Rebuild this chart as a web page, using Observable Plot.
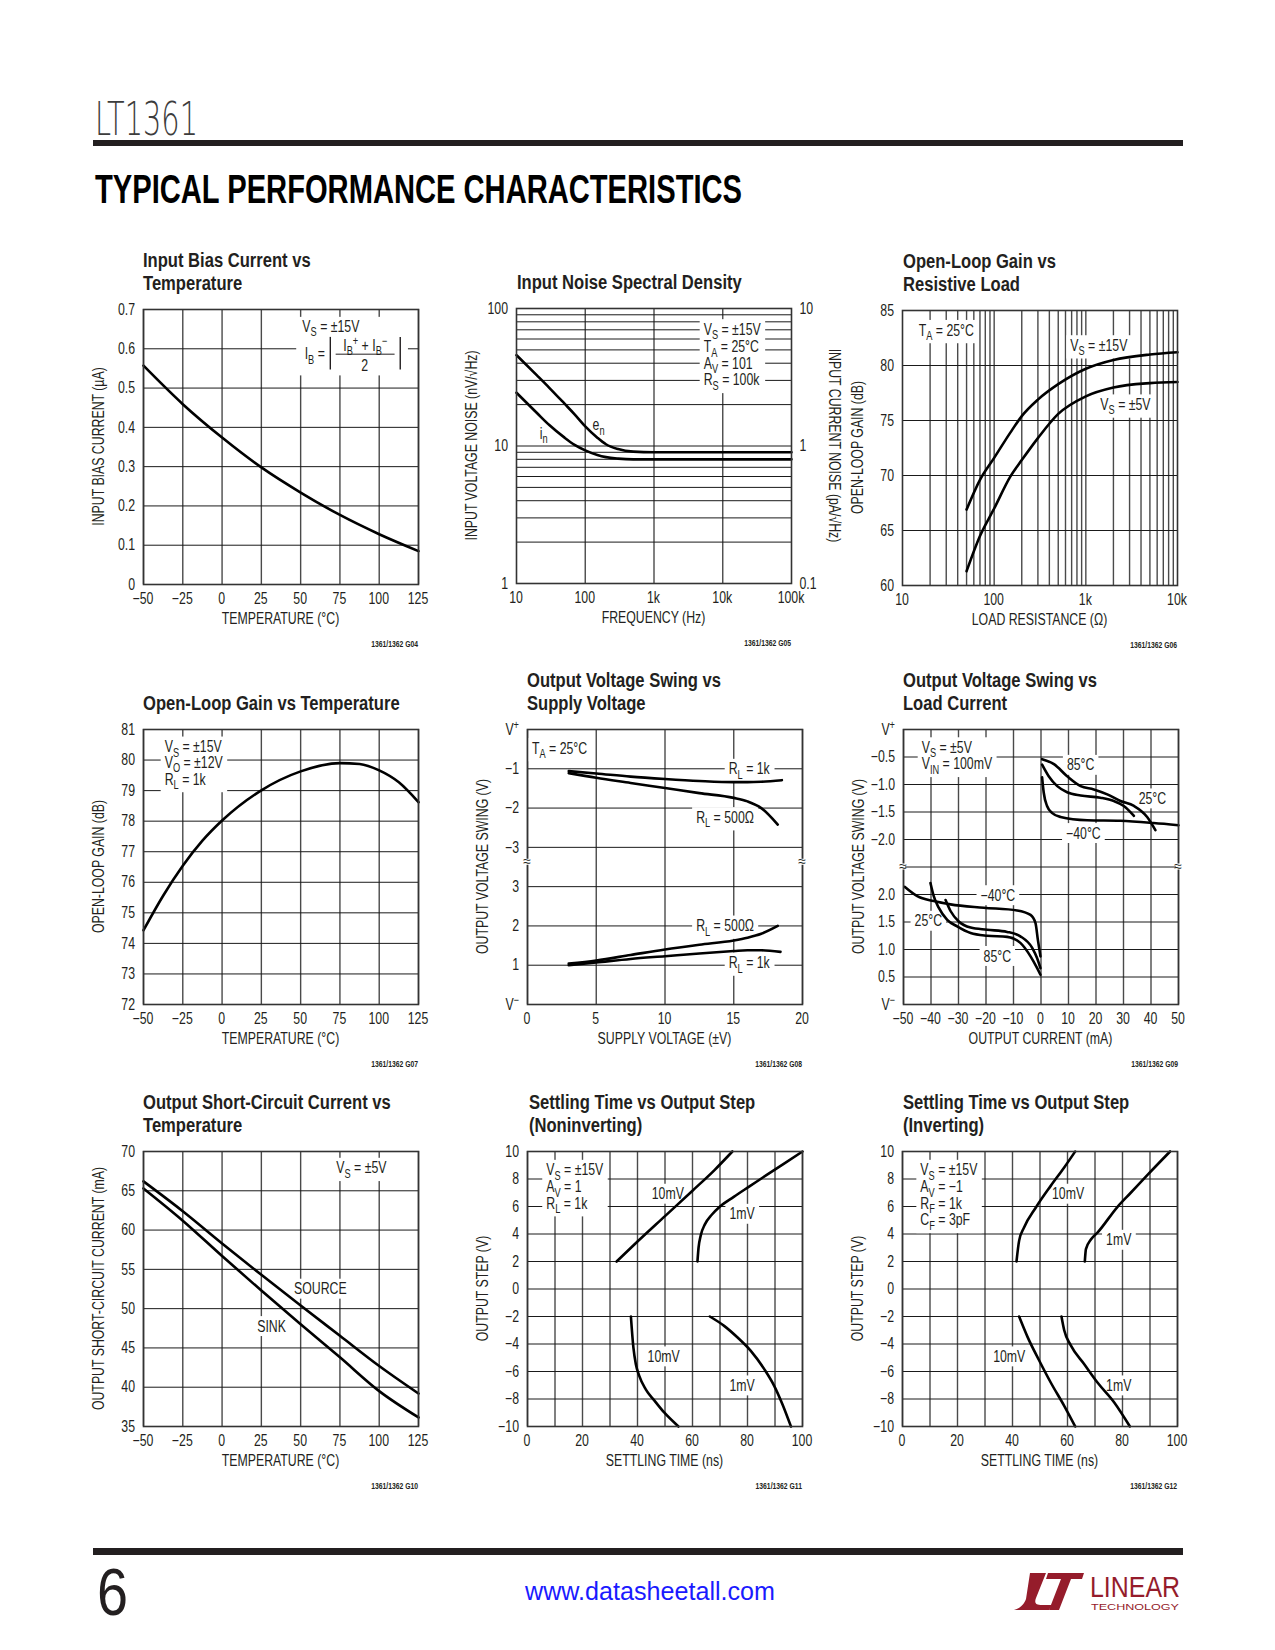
<!DOCTYPE html>
<html>
<head>
<meta charset="utf-8">
<script src="https://cdn.jsdelivr.net/npm/d3@7"></script>
<script src="https://cdn.jsdelivr.net/npm/@observablehq/plot@0.6"></script>
<style>
  html, body { margin: 0; padding: 0; background: #fff; }
  #page { position: relative; width: 1275px; height: 1650px; overflow: hidden; background: #fff; }
  #deco { position: absolute; left: 0; top: 0; z-index: 0; }
  .chart { position: absolute; z-index: 1; }
  .chart svg { display: block; overflow: visible; }
</style>
</head>
<body>
<div id="page">
<svg id="deco" width="1275" height="1650" xmlns="http://www.w3.org/2000/svg">
  <text x="95" y="135" font-family="'DejaVu Sans', 'Liberation Sans', sans-serif" font-weight="200" font-size="46" textLength="103" lengthAdjust="spacingAndGlyphs" fill="#3c3c3c">LT1361</text>
  <rect x="93" y="140" width="1090" height="6" fill="#231f20"/>
  <text x="95" y="203" font-family="'Liberation Sans', Arial, sans-serif" font-weight="bold" font-size="40" textLength="647" lengthAdjust="spacingAndGlyphs" fill="#000">TYPICAL PERFORMANCE CHARACTERISTICS</text>
  <g id="titles"></g>
  <rect x="93" y="1548" width="1090" height="7" fill="#231f20"/>
  <text x="97" y="1615" font-family="'Liberation Sans', Arial, sans-serif" font-size="66" textLength="31" lengthAdjust="spacingAndGlyphs" fill="#231f20">6</text>
  <text x="525" y="1600" font-family="'Liberation Sans', Arial, sans-serif" font-size="25" textLength="250" lengthAdjust="spacingAndGlyphs" fill="#1a1aff">www.datasheetall.com</text>
  <g transform="translate(1012,1571)" fill="#951c2b">
    <path d="M18 2 L34 2 L24 27 C22 32 24 34 30 34 L40 34 L37 39 L2 39 C9 37 12 33 14 28 Z"/>
    <path d="M36 2 L72 2 L70 8 L59 8 L47 39 L37 39 L49 8 L34 8 Z"/>
    <text x="78" y="26" font-family="'Liberation Sans', Arial, sans-serif" font-size="30" textLength="90" lengthAdjust="spacingAndGlyphs">LINEAR</text>
    <text x="79" y="38.5" font-family="'Liberation Sans', Arial, sans-serif" font-size="9" textLength="88" lengthAdjust="spacingAndGlyphs">TECHNOLOGY</text>
  </g>
</svg>
</div>
<script>
// ================= DATA =================
// G04 Input bias current vs temperature
const g04Temp = [-50, -25, 0, 25, 50, 75, 100, 125];
const g04Bias = [0.557, 0.459, 0.374, 0.298, 0.234, 0.177, 0.128, 0.085];

// G05 Input noise spectral density
const g05Freq = [10, 20, 30, 50, 70, 100, 150, 200, 300, 500, 1000, 10000, 100000];
const g05En = [45.8, 32.5, 26.5, 20.3, 17.0, 13.9, 11.5, 10.3, 9.5, 9.1, 9.0, 9.0, 9.0];      // nV/√Hz
const g05In = [2.44, 1.73, 1.42, 1.15, 1.02, 0.93, 0.86, 0.83, 0.81, 0.80, 0.80, 0.80, 0.80]; // pA/√Hz

// G06 Open-loop gain vs resistive load
const g06Load = [50, 70, 100, 150, 200, 300, 500, 1000, 2000, 5000, 10000];
const g06Gain15 = [66.9, 69.6, 71.6, 73.9, 75.4, 76.9, 78.3, 79.7, 80.5, 81.0, 81.2];
const g06Gain5 = [61.3, 64.5, 67.0, 69.9, 71.4, 73.4, 75.6, 77.2, 78.0, 78.4, 78.5];

// G07 Open-loop gain vs temperature
const g07Temp = [-50, -37.5, -25, -12.5, 0, 25, 50, 75, 87.5, 100, 112.5, 125];
const g07Gain = [74.43, 75.56, 76.54, 77.36, 78.02, 79.01, 79.63, 79.9, 79.87, 79.66, 79.27, 78.62];

// G08 Output voltage swing vs supply voltage (V relative to V+ / V−)
const g08Sup1kHi = [3, 5, 7.5, 10, 12.5, 15, 16, 17, 18.5];
const g08Swing1kHi = [-1.06, -1.12, -1.2, -1.26, -1.31, -1.34, -1.34, -1.33, -1.29];
const g08Sup500Hi = [3, 5, 7.5, 10, 12.5, 15, 16, 17, 18.2];
const g08Swing500Hi = [-1.11, -1.23, -1.36, -1.49, -1.62, -1.74, -1.83, -2.0, -2.42];
const g08Sup500Lo = [3, 5, 7.5, 10, 12.5, 15, 16, 17, 18.2];
const g08Swing500Lo = [1.04, 1.12, 1.26, 1.40, 1.52, 1.63, 1.70, 1.80, 2.0];
const g08Sup1kLo = [3, 5, 7.5, 10, 12.5, 15, 16, 17, 18.4];
const g08Swing1kLo = [1.0, 1.07, 1.16, 1.23, 1.30, 1.36, 1.38, 1.38, 1.34];

// G09 Output voltage swing vs load current
const g09CurA = [0.4, 4.7, 9.5, 14.4, 19.2, 24.1, 28.9, 33.8, 38.6, 41.6];
const g09SwingA = [-0.54, -0.63, -0.85, -1.03, -1.09, -1.18, -1.30, -1.39, -1.59, -1.83];
const g09CurB = [0.4, 2.8, 5.9, 9.5, 14.4, 21.6, 26.5, 30.1, 33.8];
const g09SwingB = [-0.64, -0.85, -1.03, -1.14, -1.20, -1.24, -1.30, -1.39, -1.57];
const g09CurC = [0.4, 1.0, 2.2, 4.1, 7.1, 16.8, 28.9, 41, 50];
const g09SwingC = [-0.87, -1.15, -1.39, -1.52, -1.59, -1.65, -1.66, -1.70, -1.74];
const g09CurD = [-49.6, -45, -39, -32.9, -20.8, -8.7, -3.8, -2.0, -1.15, -0.2];
const g09SwingD = [2.14, 1.97, 1.88, 1.82, 1.76, 1.71, 1.63, 1.48, 1.18, 0.875];
const g09CurE = [-40.2, -39, -37.2, -34.1, -30.5, -25.6, -19.6, -12.3, -7.5, -3.8, -1.4, -0.2];
const g09SwingE = [2.21, 1.97, 1.76, 1.54, 1.42, 1.30, 1.25, 1.23, 1.12, 0.875, 0.66, 0.54];
const g09CurF = [-34.7, -32.9, -29.9, -25.6, -19.6, -12.3, -7.5, -3.2, -1.4, -0.2];
const g09SwingF = [1.90, 1.70, 1.51, 1.40, 1.36, 1.32, 1.24, 1.03, 0.84, 0.66];

// G10 Output short-circuit current vs temperature
const g10Temp = [-50, -25, 0, 25, 50, 75, 100, 125];
const g10Source = [66.2, 62.4, 58.3, 54.3, 50.4, 46.55, 42.7, 39.2];
const g10Sink = [65.3, 61.2, 56.7, 52.3, 48.0, 43.8, 39.5, 36.15];

// G11 Settling time vs output step (noninverting)
const g11T10mVPos = [32.4, 40, 50, 60, 68, 74.5];
const g11S10mVPos = [2, 3.45, 5.3, 7.15, 8.65, 10];
const g11T1mVPos = [61.8, 62.2, 63.0, 64.5, 67, 70, 75, 81, 87, 93.3, 100];
const g11S1mVPos = [2, 3, 3.9, 4.7, 5.4, 6.0, 6.7, 7.5, 8.3, 9.12, 10];
const g11T10mVNeg = [37.6, 38.5, 39.4, 40.6, 43.0, 46.1, 49.7, 54.9];
const g11S10mVNeg = [-2, -4.25, -5.47, -6.3, -7.3, -8.1, -8.98, -10];
const g11T1mVNeg = [66.3, 71.5, 76.4, 81.2, 86.1, 89.7, 92.7, 95.8];
const g11S1mVNeg = [-2, -2.68, -3.53, -4.5, -5.83, -7.04, -8.38, -10];

// G12 Settling time vs output step (inverting)
const g12T10mVPos = [41.45, 42.4, 44.2, 48.5, 53.9, 58.8, 62.8];
const g12S10mVPos = [2, 3.5, 4.47, 5.93, 7.5, 8.84, 10];
const g12T1mVPos = [66.3, 66.7, 68.5, 70.9, 78.2, 83.0, 89.1, 97.3];
const g12S1mVPos = [2, 2.9, 3.6, 4.1, 5.98, 7.0, 8.3, 10];
const g12T10mVNeg = [42.4, 45.5, 49.7, 53.9, 58.8, 62.8];
const g12S10mVNeg = [-2, -3.5, -5.2, -6.8, -8.5, -10];
const g12T1mVNeg = [57.8, 58.8, 61.2, 66.1, 70.9, 77, 82.7];
const g12S1mVNeg = [-2, -3.0, -4.1, -5.47, -6.8, -8.25, -10];

// Tick values and labels
const tempTicks = [-50, -25, 0, 25, 50, 75, 100, 125];
const g04YTicks = [0, 0.1, 0.2, 0.3, 0.4, 0.5, 0.6, 0.7];
const g05XTicks = [10, 100, 1000, 10000, 100000];
const g05XLabels = ["10", "100", "1k", "10k", "100k"];
const g05YTicks = [1, 10, 100];
const g05YLabels = ["1", "10", "100"];
const g05Y2Labels = ["0.1", "1", "10"];
const g06XTicks = [10, 100, 1000, 10000];
const g06XLabels = ["10", "100", "1k", "10k"];
const g06YTicks = [60, 65, 70, 75, 80, 85];
const g07YTicks = [72, 73, 74, 75, 76, 77, 78, 79, 80, 81];
const g08XTicks = [0, 5, 10, 15, 20];
const g08YTicks = [0, 1, 2, 3, 4, 5, 6, 7];
const g08YLabels = ["V^{−}", "1", "2", "3", "−3", "−2", "−1", "V^{+}"];
const g09XTicks = [-50, -40, -30, -20, -10, 0, 10, 20, 30, 40, 50];
const g09YTicks = [0, 1, 2, 3, 4, 6, 7, 8, 9, 10];
const g09YLabels = ["V^{−}", "0.5", "1.0", "1.5", "2.0", "−2.0", "−1.5", "−1.0", "−0.5", "V^{+}"];
const g10YTicks = [35, 40, 45, 50, 55, 60, 65, 70];
const settleXTicks = [0, 20, 40, 60, 80, 100];
const settleYTicks = [-10, -8, -6, -4, -2, 0, 2, 4, 6, 8, 10];

// ================= RENDERING =================
const INK = "#231f20";
const SANS = "'Liberation Sans', Arial, Helvetica, sans-serif";
const SX = 0.77;   // horizontal condensing (Helvetica Narrow look)
const FS = 16;     // base text size
const FW = 275, FH = 275, ML = 70, MR = 60, MT = 20, MB = 75;
const fmt = d => (d < 0 ? "−" : "") + Math.abs(d);
const fmt1 = d => d === 0 ? "0" : d.toFixed(1);
const page = document.getElementById("page");

function rich(sel, x, y, s, o = {}) {
  const fs = o.size || FS;
  const t = sel.append("text")
    .attr("transform", `translate(${x},${y})${o.rotate ? ` rotate(${o.rotate})` : ""} scale(${o.sx || SX},1)`)
    .attr("font-family", SANS).attr("font-size", fs)
    .attr("text-anchor", o.anchor || "start").attr("fill", o.fill || INK);
  if (o.weight) t.attr("font-weight", o.weight);
  const re = /([_^])\{([^}]*)\}/g;
  let last = 0, m, shift = 0;
  const push = (txt, kind) => {
    if (!txt) return;
    const target = kind === "_" ? fs * 0.28 : kind === "^" ? -fs * 0.38 : 0;
    const sp = t.append("tspan").text(txt);
    if (target !== shift) { sp.attr("dy", target - shift); shift = target; }
    if (kind) sp.attr("font-size", fs * 0.75);
  };
  while ((m = re.exec(s))) { push(s.slice(last, m.index)); push(m[2], m[1]); last = re.lastIndex; }
  push(s.slice(last));
  return t;
}

function notesMark(notes, custom) {
  return (index, scales) => {
    const g = d3.create("svg:g");
    if (custom) custom(g, scales);
    for (const n of notes) {
      const grp = g.append("g").attr("class", n.box === false ? "plain" : "boxed");
      n.lines.forEach((s, i) => rich(grp, scales.x(n.x), scales.y(n.y[i]) + 5.7, s, {anchor: n.anchor}));
    }
    return g.node();
  };
}

function axesMark(c) {
  return (index, scales, values, dims) => {
    const L = dims.marginLeft, R = dims.width - dims.marginRight;
    const T = dims.marginTop, B = dims.height - dims.marginBottom;
    const g = d3.create("svg:g");
    c.xTicks.forEach((v, i) => rich(g, scales.x(v), B + 20, c.xLabels[i], {anchor: "middle"}));
    c.yTicks.forEach((v, i) => rich(g, L - 8, scales.y(v) + 5.7, c.yLabels[i], {anchor: "end"}));
    if (c.y2Labels) c.yTicks.forEach((v, i) => rich(g, R + 8.5, scales.y(v) + 5.7, c.y2Labels[i], {anchor: "start"}));
    rich(g, (L + R) / 2, B + 40, c.xTitle, {anchor: "middle"});
    rich(g, L - 39.5, (T + B) / 2, c.yTitle, {anchor: "middle", rotate: -90});
    if (c.y2Title) rich(g, R + 38, (T + B) / 2, c.y2Title, {anchor: "middle", rotate: 90});
    rich(g, R, B + 63, c.code, {anchor: "end", size: 8.5, weight: "bold", sx: 0.8});
    if (c.breakAt != null) {
      const yb = scales.y(c.breakAt);
      for (const xx of [L, R]) {
        g.append("rect").attr("x", xx - 2).attr("y", yb - 3).attr("width", 4).attr("height", 6).attr("fill", "#fff");
        g.append("text").attr("x", xx).attr("y", yb + 4).attr("text-anchor", "middle")
          .attr("font-family", SANS).attr("font-size", 14).attr("fill", INK).text("≈");
      }
    }
    return g.node();
  };
}

function rows(xs, ys, f = v => v) { return xs.map((x, i) => ({x, y: f(ys[i])})); }

function buildChart(c) {
  const W = FW + ML + MR, H = FH + MT + MB;
  const marks = [
    Plot.ruleX(c.gridX, {stroke: "#4a4a4a", strokeWidth: 1.4}),
    Plot.ruleY(c.gridY, {stroke: "#1a1a1a", strokeWidth: 1}),
    notesMark(c.notes || [], c.custom),
    ...c.series.map(s => Plot.line(s, {x: "x", y: "y", stroke: "#000", strokeWidth: 2.6, curve: "monotone-x"})),
    Plot.frame({stroke: "#333", strokeWidth: 1.6}),
    axesMark(c)
  ];
  const svg = Plot.plot({
    width: W, height: H, marginLeft: ML, marginRight: MR, marginTop: MT, marginBottom: MB,
    style: {background: "transparent", overflow: "visible", fontFamily: SANS, fontSize: "16px"},
    x: {...c.x, axis: null}, y: {...c.y, axis: null},
    marks
  });
  const div = document.createElement("div");
  div.className = "chart";
  div.style.left = (c.left - ML) + "px";
  div.style.top = (c.top - MT) + "px";
  div.style.width = W + "px";
  div.style.height = H + "px";
  div.appendChild(svg);
  page.appendChild(div);
  svg.querySelectorAll("g.boxed").forEach(grp => {
    const b = grp.getBBox();
    const r = document.createElementNS("http://www.w3.org/2000/svg", "rect");
    r.setAttribute("x", b.x - 4); r.setAttribute("y", b.y - 1);
    r.setAttribute("width", b.width + 8); r.setAttribute("height", b.height + 2);
    r.setAttribute("fill", "#fff");
    grp.insertBefore(r, grp.firstChild);
  });
  // title
  const titles = d3.select("#titles");
  const base = c.top - 19;
  const n = c.title.length;
  c.title.forEach((line, i) => rich(titles, c.titleX, base - (n - 1 - i) * 23, line, {size: 21, weight: "bold", sx: 0.79}));
}

const minorLog = (from, to) => { const a = []; for (let d = from; d < to; d *= 10) for (let k = 1; k < 10; k++) a.push(k * d); return a.filter(v => v > from); };

// ---- Chart 1
buildChart({
  left: 143.3, top: 309, titleX: 143, title: ["Input Bias Current vs", "Temperature"], code: "1361/1362 G04",
  x: {domain: [-50, 125]}, y: {domain: [0, 0.7]},
  gridX: tempTicks, gridY: g04YTicks,
  xTicks: tempTicks, xLabels: tempTicks.map(fmt), yTicks: g04YTicks, yLabels: g04YTicks.map(fmt1),
  xTitle: "TEMPERATURE (°C)", yTitle: "INPUT BIAS CURRENT (µA)",
  series: [rows(g04Temp, g04Bias)],
  custom: (g, s) => {
    g.append("rect").attr("x", s.x(47.5)).attr("y", s.y(0.68)).attr("width", s.x(118.6) - s.x(47.5))
      .attr("height", s.y(0.531) - s.y(0.68)).attr("fill", "#fff");
    rich(g, s.x(51.4), s.y(0.657) + 5.7, "V_{S} = ±15V");
    rich(g, s.x(52.9), s.y(0.587) + 5.7, "I_{B} =");
    for (const xv of [69.2, 113.7]) g.append("line").attr("x1", s.x(xv)).attr("x2", s.x(xv))
      .attr("y1", s.y(0.629)).attr("y2", s.y(0.546)).attr("stroke", INK).attr("stroke-width", 1.4);
    rich(g, s.x(91.4), s.y(0.608) + 5.7, "I_{B}^{+} + I_{B}^{−}", {anchor: "middle"});
    g.append("line").attr("x1", s.x(72.6)).attr("x2", s.x(110.1)).attr("y1", s.y(0.585)).attr("y2", s.y(0.585))
      .attr("stroke", INK).attr("stroke-width", 1);
    rich(g, s.x(91), s.y(0.557) + 5.7, "2", {anchor: "middle"});
  }
});

// ---- Chart 2
buildChart({
  left: 515.7, top: 308.3, titleX: 517, title: ["Input Noise Spectral Density"], code: "1361/1362 G05",
  x: {type: "log", domain: [10, 100000]}, y: {type: "log", domain: [1, 100]},
  gridX: [100, 1000, 10000], gridY: minorLog(1, 100),
  xTicks: g05XTicks, xLabels: g05XLabels, yTicks: g05YTicks, yLabels: g05YLabels, y2Labels: g05Y2Labels,
  xTitle: "FREQUENCY (Hz)", yTitle: "INPUT VOLTAGE NOISE (nV/√Hz)", y2Title: "INPUT CURRENT NOISE (pA/√Hz)",
  series: [rows(g05Freq, g05En), rows(g05Freq, g05In, v => v * 10)],
  notes: [
    {x: 5370, y: [70.3, 52.6, 39.8, 30.1], lines: ["V_{S} = ±15V", "T_{A} = 25°C", "A_{V} = 101", "R_{S} = 100k"]},
    {x: 159, y: [14.2], lines: ["e_{n}"], anchor: "middle", box: false},
    {x: 25.3, y: [12.3], lines: ["i_{n}"], anchor: "middle", box: false}
  ]
});

// ---- Chart 3
buildChart({
  left: 901.7, top: 310, titleX: 903, title: ["Open-Loop Gain vs", "Resistive Load"], code: "1361/1362 G06",
  x: {type: "log", domain: [10, 10000]}, y: {domain: [60, 85]},
  gridX: minorLog(10, 10000), gridY: [65, 70, 75, 80],
  xTicks: g06XTicks, xLabels: g06XLabels, yTicks: g06YTicks, yLabels: g06YTicks.map(fmt),
  xTitle: "LOAD RESISTANCE (Ω)", yTitle: "OPEN-LOOP GAIN (dB)",
  series: [rows(g06Load, g06Gain15), rows(g06Load, g06Gain5)],
  notes: [
    {x: 15.2, y: [83.2], lines: ["T_{A} = 25°C"]},
    {x: 686, y: [81.81], lines: ["V_{S} = ±15V"]},
    {x: 1459, y: [76.43], lines: ["V_{S} = ±5V"]}
  ]
});

// ---- Chart 4
buildChart({
  left: 143.3, top: 729.3, titleX: 143, title: ["Open-Loop Gain vs Temperature"], code: "1361/1362 G07",
  x: {domain: [-50, 125]}, y: {domain: [72, 81]},
  gridX: tempTicks, gridY: g07YTicks,
  xTicks: tempTicks, xLabels: tempTicks.map(fmt), yTicks: g07YTicks, yLabels: g07YTicks.map(fmt),
  xTitle: "TEMPERATURE (°C)", yTitle: "OPEN-LOOP GAIN (dB)",
  series: [rows(g07Temp, g07Gain)],
  notes: [{x: -36.2, y: [80.43, 79.92, 79.37], lines: ["V_{S} = ±15V", "V_{O} = ±12V", "R_{L} = 1k"]}]
});

// ---- Chart 5
buildChart({
  left: 526.7, top: 729, titleX: 527, title: ["Output Voltage Swing vs", "Supply Voltage"], code: "1361/1362 G08",
  x: {domain: [0, 20]}, y: {domain: [0, 7]},
  gridX: g08XTicks, gridY: [1, 2, 3, 4, 5, 6],
  xTicks: g08XTicks, xLabels: g08XTicks.map(fmt), yTicks: g08YTicks, yLabels: g08YLabels,
  xTitle: "SUPPLY VOLTAGE (±V)", yTitle: "OUTPUT VOLTAGE SWING (V)", breakAt: 3.62,
  series: [
    rows(g08Sup1kHi, g08Swing1kHi, v => 7 + v), rows(g08Sup500Hi, g08Swing500Hi, v => 7 + v),
    rows(g08Sup500Lo, g08Swing500Lo), rows(g08Sup1kLo, g08Swing1kLo)
  ],
  notes: [
    {x: 0.36, y: [6.52], lines: ["T_{A} = 25°C"]},
    {x: 14.67, y: [5.99], lines: ["R_{L} = 1k"]},
    {x: 12.3, y: [4.76], lines: ["R_{L} = 500Ω"]},
    {x: 12.3, y: [2.0], lines: ["R_{L} = 500Ω"]},
    {x: 14.67, y: [1.06], lines: ["R_{L} = 1k"]}
  ]
});

// ---- Chart 6
buildChart({
  left: 903.3, top: 729, titleX: 903, title: ["Output Voltage Swing vs", "Load Current"], code: "1361/1362 G09",
  x: {domain: [-50, 50]}, y: {domain: [0, 10]},
  gridX: g09XTicks, gridY: [1, 2, 3, 4, 5, 6, 7, 8, 9],
  xTicks: g09XTicks, xLabels: g09XTicks.map(fmt), yTicks: g09YTicks, yLabels: g09YLabels,
  xTitle: "OUTPUT CURRENT (mA)", yTitle: "OUTPUT VOLTAGE SWING (V)", breakAt: 5,
  series: [
    rows(g09CurA, g09SwingA, v => 10 + 2 * v), rows(g09CurB, g09SwingB, v => 10 + 2 * v), rows(g09CurC, g09SwingC, v => 10 + 2 * v),
    rows(g09CurD, g09SwingD, v => 2 * v), rows(g09CurE, g09SwingE, v => 2 * v), rows(g09CurF, g09SwingF, v => 2 * v)
  ],
  notes: [
    {x: -43.2, y: [9.34, 8.74], lines: ["V_{S} = ±5V", "V_{IN} = 100mV"]},
    {x: 14.6, y: [8.70], lines: ["85°C"], anchor: "middle"},
    {x: 40.7, y: [7.48], lines: ["25°C"], anchor: "middle"},
    {x: 15.6, y: [6.22], lines: ["−40°C"], anchor: "middle"},
    {x: -15.5, y: [3.96], lines: ["−40°C"], anchor: "middle"},
    {x: -40.8, y: [3.03], lines: ["25°C"], anchor: "middle"},
    {x: -15.7, y: [1.75], lines: ["85°C"], anchor: "middle"}
  ]
});

// ---- Chart 7
buildChart({
  left: 143.3, top: 1150.7, titleX: 143, title: ["Output Short-Circuit Current vs", "Temperature"], code: "1361/1362 G10",
  x: {domain: [-50, 125]}, y: {domain: [35, 70]},
  gridX: tempTicks, gridY: g10YTicks,
  xTicks: tempTicks, xLabels: tempTicks.map(fmt), yTicks: g10YTicks, yLabels: g10YTicks.map(fmt),
  xTitle: "TEMPERATURE (°C)", yTitle: "OUTPUT SHORT-CIRCUIT CURRENT (mA)",
  series: [rows(g10Temp, g10Source), rows(g10Temp, g10Sink)],
  notes: [
    {x: 73, y: [67.88], lines: ["V_{S} = ±5V"]},
    {x: 46.1, y: [52.49], lines: ["SOURCE"]},
    {x: 22.7, y: [47.73], lines: ["SINK"]}
  ]
});

// ---- Chart 8
buildChart({
  left: 526.7, top: 1150.7, titleX: 529, title: ["Settling Time vs Output Step", "(Noninverting)"], code: "1361/1362 G11",
  x: {domain: [0, 100]}, y: {domain: [-10, 10]},
  gridX: d3.range(0, 101, 10), gridY: settleYTicks,
  xTicks: settleXTicks, xLabels: settleXTicks.map(fmt), yTicks: settleYTicks, yLabels: settleYTicks.map(fmt),
  xTitle: "SETTLING TIME (ns)", yTitle: "OUTPUT STEP (V)",
  series: [rows(g11T10mVPos, g11S10mVPos), rows(g11T1mVPos, g11S1mVPos), rows(g11T10mVNeg, g11S10mVNeg), rows(g11T1mVNeg, g11S1mVNeg)],
  notes: [
    {x: 7, y: [8.64, 7.43, 6.22], lines: ["V_{S} = ±15V", "A_{V} = 1", "R_{L} = 1k"]},
    {x: 51.2, y: [6.9], lines: ["10mV"], anchor: "middle"},
    {x: 78.2, y: [5.44], lines: ["1mV"], anchor: "middle"},
    {x: 49.7, y: [-4.93], lines: ["10mV"], anchor: "middle"},
    {x: 78.2, y: [-7.04], lines: ["1mV"], anchor: "middle"}
  ]
});

// ---- Chart 9
buildChart({
  left: 901.7, top: 1150.7, titleX: 903, title: ["Settling Time vs Output Step", "(Inverting)"], code: "1361/1362 G12",
  x: {domain: [0, 100]}, y: {domain: [-10, 10]},
  gridX: d3.range(0, 101, 10), gridY: settleYTicks,
  xTicks: settleXTicks, xLabels: settleXTicks.map(fmt), yTicks: settleYTicks, yLabels: settleYTicks.map(fmt),
  xTitle: "SETTLING TIME (ns)", yTitle: "OUTPUT STEP (V)",
  series: [rows(g12T10mVPos, g12S10mVPos), rows(g12T1mVPos, g12S1mVPos), rows(g12T10mVNeg, g12S10mVNeg), rows(g12T1mVNeg, g12S1mVNeg)],
  notes: [
    {x: 6.67, y: [8.64, 7.43, 6.22, 5.0], lines: ["V_{S} = ±15V", "A_{V} = −1", "R_{F} = 1k", "C_{F} = 3pF"]},
    {x: 60.4, y: [6.9], lines: ["10mV"], anchor: "middle"},
    {x: 78.8, y: [3.55], lines: ["1mV"], anchor: "middle"},
    {x: 39.0, y: [-4.93], lines: ["10mV"], anchor: "middle"},
    {x: 78.8, y: [-7.04], lines: ["1mV"], anchor: "middle"}
  ]
});
</script>
</body>
</html>
